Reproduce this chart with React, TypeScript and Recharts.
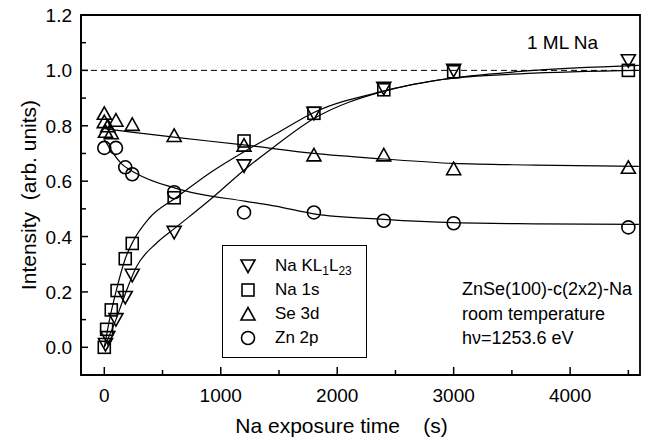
import React from 'react';
import {
  ComposedChart,
  Line,
  Scatter,
  XAxis,
  YAxis,
  ReferenceLine,
  ReferenceArea,
} from 'recharts';

// measured points
const klTime = [10, 30, 100, 180, 240, 600, 1200, 1800, 2400, 3000, 4500];
const klInt = [0.01, 0.035, 0.1, 0.18, 0.26, 0.415, 0.655, 0.845, 0.935, 1.0, 1.035];

const s1Time = [0, 20, 60, 110, 180, 240, 600, 1200, 1800, 2400, 3000, 4500];
const s1Int = [0.0, 0.065, 0.135, 0.205, 0.32, 0.375, 0.54, 0.745, 0.845, 0.93, 0.995, 1.0];

const seTime = [0, 0, 10, 30, 60, 100, 240, 600, 1200, 1800, 2400, 3000, 4500];
const seInt = [0.845, 0.815, 0.78, 0.8, 0.775, 0.82, 0.805, 0.765, 0.73, 0.695, 0.695, 0.645, 0.65];

const znTime = [0, 100, 180, 240, 600, 1200, 1800, 2400, 3000, 4500];
const znInt = [0.72, 0.72, 0.65, 0.625, 0.56, 0.487, 0.487, 0.457, 0.448, 0.433];

// fitted curves
const klFitTime = [0, 100, 160, 275, 445, 615, 900, 1215, 1445, 1800, 2400, 2900, 3600, 4590];
const klFitInt = [0, 0.1, 0.17, 0.29, 0.375, 0.433, 0.53, 0.645, 0.72, 0.826, 0.925, 0.967, 0.997, 1.018];

const s1FitTime = [0, 50, 100, 180, 250, 385, 615, 900, 1215, 1470, 1800, 2400, 2900, 3600, 4590];
const s1FitInt = [0, 0.11, 0.2, 0.32, 0.385, 0.466, 0.54, 0.628, 0.71, 0.77, 0.848, 0.925, 0.967, 0.988, 1.0];

const seFitTime = [0, 250, 615, 1215, 1800, 2400, 3000, 3700, 4590];
const seFitInt = [0.79, 0.776, 0.758, 0.73, 0.7, 0.68, 0.664, 0.658, 0.653];

const znFitTime = [0, 145, 275, 615, 1215, 1470, 1800, 2400, 3000, 3700, 4590];
const znFitInt = [0.75, 0.664, 0.628, 0.574, 0.527, 0.51, 0.482, 0.462, 0.45, 0.446, 0.444];

const xTicks = [0, 500, 1000, 1500, 2000, 2500, 3000, 3500, 4000, 4500];
const yTicks = [0, 0.1, 0.2, 0.3, 0.4, 0.5, 0.6, 0.7, 0.8, 0.9, 1.0, 1.1, 1.2];

const zip = (xs: number[], ys: number[]) => xs.map((x, i) => ({ x, y: ys[i] }));

const FONT = '"Liberation Sans", Arial, Helvetica, sans-serif';
const SW = 1.6;

const TriDown = ({ cx, cy }: any) => (
  <polygon points={`${cx - 7},${cy - 6} ${cx + 7},${cy - 6} ${cx},${cy + 6.5}`} fill="none" stroke="#000" strokeWidth={SW} />
);
const TriUp = ({ cx, cy }: any) => (
  <polygon points={`${cx - 7},${cy + 6} ${cx + 7},${cy + 6} ${cx},${cy - 6.5}`} fill="none" stroke="#000" strokeWidth={SW} />
);
const Square = ({ cx, cy }: any) => (
  <rect x={cx - 6} y={cy - 6} width={12} height={12} fill="none" stroke="#000" strokeWidth={SW} />
);
const Circ = ({ cx, cy }: any) => <circle cx={cx} cy={cy} r={6.5} fill="none" stroke="#000" strokeWidth={SW} />;

const XTick = ({ x, y, payload }: any) => {
  const major = payload.value % 1000 === 0;
  return (
    <g>
      <line x1={x} y1={y} x2={x} y2={y - (major ? 8 : 5)} stroke="#000" strokeWidth={1.5} />
      {major && (
        <text x={x} y={y + 27} textAnchor="middle" fontSize={19} fontFamily={FONT} fill="#000">
          {payload.value}
        </text>
      )}
    </g>
  );
};

const YTick = ({ x, y, payload }: any) => {
  const major = Math.round(payload.value * 10) % 2 === 0;
  return (
    <g>
      <line x1={x} y1={y} x2={x + (major ? 7 : 5)} y2={y} stroke="#000" strokeWidth={1.5} />
      {major && (
        <text x={x - 9} y={y + 7} textAnchor="end" fontSize={19} fontFamily={FONT} fill="#000">
          {payload.value.toFixed(1)}
        </text>
      )}
    </g>
  );
};

const subStyle = { fontSize: 12, verticalAlign: '-4px', lineHeight: 0 };
const legendRows = [
  { icon: 'down', label: <>Na KL<span style={subStyle}>1</span>L<span style={subStyle}>23</span></> },
  { icon: 'square', label: 'Na 1s' },
  { icon: 'up', label: 'Se 3d' },
  { icon: 'circle', label: 'Zn 2p' },
];

const LegendIcon = ({ kind }: { kind: string }) => (
  <svg width={18} height={18} style={{ display: 'block' }}>
    {kind === 'down' && <TriDown cx={9} cy={9} />}
    {kind === 'up' && <TriUp cx={9} cy={9} />}
    {kind === 'square' && <Square cx={9} cy={9} />}
    {kind === 'circle' && <Circ cx={9} cy={9} />}
  </svg>
);

export default function App() {
  return (
    <div style={{ position: 'absolute', left: 0, top: 0, width: 656, height: 440, background: '#fff', fontFamily: FONT }}>
      <ComposedChart width={656} height={440} margin={{ top: 15, right: 16, bottom: 0, left: 0 }}>
        <XAxis
          type="number"
          dataKey="x"
          domain={[-200, 4600]}
          ticks={xTicks}
          allowDataOverflow
          height={65}
          tickSize={0}
          tickMargin={0}
          tickLine={false}
          axisLine={{ stroke: '#000', strokeWidth: 1.8 }}
          tick={<XTick />}
          label={{
            value: 'Na exposure time\u00a0\u00a0\u00a0\u00a0(s)',
            position: 'insideBottom',
            offset: 7,
            dx: -19,
            style: { fontSize: 21, fontFamily: FONT, fill: '#000' },
          }}
        />
        <YAxis
          type="number"
          dataKey="y"
          domain={[-0.1, 1.2]}
          ticks={yTicks}
          allowDataOverflow
          width={81}
          tickSize={0}
          tickMargin={0}
          tickLine={false}
          axisLine={{ stroke: '#000', strokeWidth: 1.8 }}
          tick={<YTick />}
          label={{
            value: 'Intensity\u00a0\u00a0(arb. units)',
            angle: -90,
            position: 'insideLeft',
            offset: 29,
            style: { fontSize: 21, fontFamily: FONT, fill: '#000', textAnchor: 'middle' },
          }}
        />
        <ReferenceArea x1={-200} x2={4600} y1={-0.1} y2={1.2} fill="none" stroke="#000" strokeWidth={1.8} />
        <ReferenceLine y={1} stroke="#000" strokeWidth={1} strokeDasharray="6 4" />

        <Line data={zip(klFitTime, klFitInt)} dataKey="y" type="monotone" stroke="#000" strokeWidth={1.2} dot={false} isAnimationActive={false} />
        <Line data={zip(s1FitTime, s1FitInt)} dataKey="y" type="monotone" stroke="#000" strokeWidth={1.2} dot={false} isAnimationActive={false} />
        <Line data={zip(seFitTime, seFitInt)} dataKey="y" type="monotone" stroke="#000" strokeWidth={1.2} dot={false} isAnimationActive={false} />
        <Line data={zip(znFitTime, znFitInt)} dataKey="y" type="monotone" stroke="#000" strokeWidth={1.2} dot={false} isAnimationActive={false} />

        <Scatter data={zip(klTime, klInt)} shape={TriDown} isAnimationActive={false} />
        <Scatter data={zip(s1Time, s1Int)} shape={Square} isAnimationActive={false} />
        <Scatter data={zip(seTime, seInt)} shape={TriUp} isAnimationActive={false} />
        <Scatter data={zip(znTime, znInt)} shape={Circ} isAnimationActive={false} />
      </ComposedChart>

      <div style={{ position: 'absolute', left: 527, top: 33, fontSize: 19, lineHeight: '20px', color: '#000', whiteSpace: 'nowrap' }}>1 ML Na</div>

      <div style={{ position: 'absolute', left: 462, top: 277, fontSize: 18, lineHeight: '24.5px', color: '#000', whiteSpace: 'nowrap' }}>
        <div>ZnSe(100)-c(2x2)-Na</div>
        <div>room temperature</div>
        <div>hν=1253.6 eV</div>
      </div>

      <div
        style={{
          position: 'absolute',
          left: 222,
          top: 245,
          width: 145,
          height: 113,
          boxSizing: 'border-box',
          border: '1.5px solid #000',
          background: '#fff',
          paddingTop: 8,
          paddingLeft: 16,
        }}
      >
        {legendRows.map((r, i) => (
          <div key={i} style={{ display: 'flex', alignItems: 'center', height: 24 }}>
            <LegendIcon kind={r.icon} />
            <span style={{ marginLeft: 18, fontSize: 17, whiteSpace: 'nowrap' }}>{r.label}</span>
          </div>
        ))}
      </div>
    </div>
  );
}
